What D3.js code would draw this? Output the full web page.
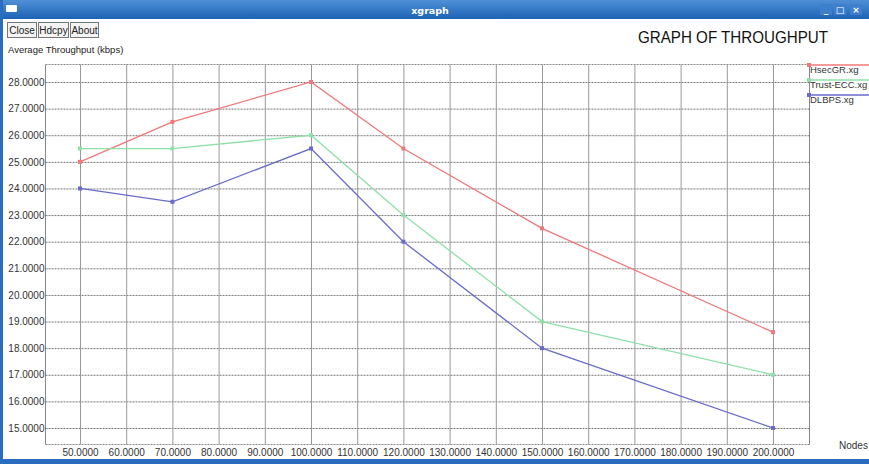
<!DOCTYPE html>
<html><head><meta charset="utf-8">
<script src="https://cdn.jsdelivr.net/npm/d3@7"></script>
<style>html,body{margin:0;padding:0;background:#fff;overflow:hidden}</style>
</head><body>
<svg id="c" width="869" height="464"></svg>
<script>
const nodes = [50, 70, 100, 120, 150, 200];
const hsecgr = [25, 26.5, 28, 25.5, 22.5, 18.6];
const trustEcc = [25.5, 25.5, 26, 23, 19, 17];
const dlbps = [24, 23.5, 25.5, 22, 18, 15];
const seriesNames = ["HsecGR.xg", "Trust-ECC.xg", "DLBPS.xg"];
const seriesColors = ["#f07878", "#8ee0a8", "#6a6acc"];
const xTicks = d3.range(50, 201, 10);
const yTicks = d3.range(15, 29, 1);

const svg = d3.select("#c");
const W = 869, H = 464;

// window chrome
const grad = svg.append("defs").append("linearGradient").attr("id","tb").attr("x1",0).attr("x2",0).attr("y1",0).attr("y2",1);
grad.append("stop").attr("offset","0%").attr("stop-color","#4f8fd6");
grad.append("stop").attr("offset","100%").attr("stop-color","#1d63b5");
svg.append("rect").attr("x",0).attr("y",0).attr("width",W).attr("height",19).attr("fill","url(#tb)");
svg.append("rect").attr("x",0).attr("y",0).attr("width",3).attr("height",H).attr("fill","#2a6cbf");
svg.append("rect").attr("x",0).attr("y",459).attr("width",W).attr("height",5).attr("fill","#2a6cbf");
svg.append("rect").attr("x",6).attr("y",5).attr("width",11).attr("height",7).attr("rx",1).attr("fill","#fff");
svg.append("text").attr("x",430).attr("y",14).attr("text-anchor","middle").attr("fill","#fff")
  .attr("font-family","DejaVu Sans, sans-serif").attr("font-size",9.5).attr("font-weight","bold").text("xgraph");
[["_",826],["□",840],["×",856]].forEach(([s,x])=>{
  svg.append("rect").attr("x",x-6).attr("y",4).attr("width",12).attr("height",11).attr("fill","#3d7fcc");
  svg.append("text").attr("x",x).attr("y",13).attr("text-anchor","middle").attr("fill","#fff")
    .attr("font-family","DejaVu Sans, sans-serif").attr("font-size",9).attr("font-weight","bold").text(s);
});
// buttons
[["Close",7,29],["Hdcpy",38,30],["About",70,28]].forEach(([t,x,w])=>{
  svg.append("rect").attr("x",x+0.5).attr("y",22.5).attr("width",w).attr("height",15).attr("fill","#f4f4f4").attr("stroke","#777");
  svg.append("text").attr("x",x+w/2+0.5).attr("y",34).attr("text-anchor","middle").attr("fill","#222")
    .attr("font-family","Liberation Sans, Arial, sans-serif").attr("font-size",10).text(t);
});
svg.append("text").attr("x",8).attr("y",53).attr("fill","#222")
  .attr("font-family","Liberation Sans, Arial, sans-serif").attr("font-size",9.5).text("Average Throughput (kbps)");
svg.append("text").attr("x",638).attr("y",43).attr("fill","#111")
  .attr("font-family","Liberation Sans, Arial, sans-serif").attr("font-size",17)
  .attr("textLength",190).attr("lengthAdjust","spacingAndGlyphs").text("GRAPH OF THROUGHPUT");

// scales
const x = d3.scaleLinear().domain([50, 200]).range([80, 773]);
const y = d3.scaleLinear().domain([15, 28]).range([428, 82]);
const L = 45.5, R = 809.5, T = 64.5, B = 444.5;

const g = svg.append("g");
// frame
g.append("line").attr("x1",L).attr("x2",L).attr("y1",T).attr("y2",B).attr("stroke","#888");
g.append("line").attr("x1",R).attr("x2",R).attr("y1",T).attr("y2",B).attr("stroke","#888");
g.append("line").attr("x1",L).attr("x2",R).attr("y1",T).attr("y2",T).attr("stroke","#888").attr("stroke-dasharray","2,1");
g.append("line").attr("x1",L).attr("x2",R).attr("y1",B).attr("y2",B).attr("stroke","#888").attr("stroke-dasharray","2,1");

// grid via axes
const yAxis = d3.axisLeft(y).tickValues(yTicks).tickSize(-(R-L)).tickFormat(d3.format(".4f"));
const ya = g.append("g").attr("transform",`translate(${L},0)`).call(yAxis);
ya.select(".domain").remove();
ya.selectAll(".tick line").attr("stroke","#777").attr("stroke-dasharray","2,1").attr("stroke-width",1);
ya.selectAll(".tick text").attr("x",-1).attr("fill","#333").attr("font-size",10)
  .attr("font-family","Liberation Sans, Arial, sans-serif");

const xAxis = d3.axisBottom(x).tickValues(xTicks).tickSize(-(B-T)).tickFormat(d3.format(".4f"));
const xa = g.append("g").attr("transform",`translate(0,${B})`).call(xAxis);
xa.select(".domain").remove();
xa.selectAll(".tick line").attr("stroke","#999").attr("stroke-width",1);
xa.selectAll(".tick text").attr("y",4).attr("fill","#333").attr("font-size",10)
  .attr("font-family","Liberation Sans, Arial, sans-serif");

svg.append("text").attr("x",839).attr("y",449).attr("fill","#333")
  .attr("font-family","Liberation Sans, Arial, sans-serif").attr("font-size",10).text("Nodes");

// series
const all = [hsecgr, trustEcc, dlbps];
const line = d3.line().x((d,i)=>x(nodes[i])).y(d=>y(d));
all.forEach((vals,k)=>{
  svg.append("path").datum(vals).attr("d",line).attr("fill","none")
    .attr("stroke",seriesColors[k]).attr("stroke-width",1.3);
  svg.selectAll(null).data(vals).enter().append("rect")
    .attr("x",(d,i)=>x(nodes[i])-2).attr("y",d=>y(d)-2).attr("width",4).attr("height",4)
    .attr("fill",seriesColors[k]);
});

// legend
seriesNames.forEach((n,k)=>{
  const ly = 65 + k*15;
  svg.append("line").attr("x1",808).attr("x2",W).attr("y1",ly).attr("y2",ly)
    .attr("stroke",seriesColors[k]).attr("stroke-width",1.3);
  svg.append("rect").attr("x",807).attr("y",ly-2).attr("width",4).attr("height",4).attr("fill",seriesColors[k]);
  svg.append("text").attr("x",810).attr("y",ly+8).attr("fill","#333")
    .attr("font-family","Liberation Sans, Arial, sans-serif").attr("font-size",9.5).text(n);
});
</script>
</body></html>
